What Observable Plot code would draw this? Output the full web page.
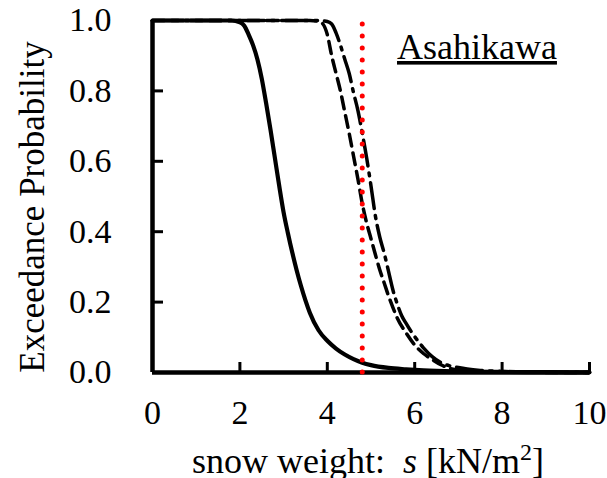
<!DOCTYPE html>
<html><head><meta charset="utf-8">
<script src="https://cdn.jsdelivr.net/npm/d3@7"></script>
<script src="https://cdn.jsdelivr.net/npm/@observablehq/plot@0.6"></script>
<style>body{margin:0;background:#fff}svg{display:block}</style>
</head><body><div id="chart"></div>
<script>
// ---- data ----
const solidS = [0, 1.8, 2.0, 2.1, 2.2, 2.3, 2.4, 2.5, 2.6, 2.7, 2.8, 2.9, 3.0, 3.1, 3.2, 3.3, 3.4, 3.5, 3.6, 3.8, 4.0, 4.2, 4.4, 4.6, 4.8, 5.0, 5.4, 5.8, 6.2, 7.0, 8.0, 9.0, 10.0];
const solidP = [1.0, 1.0, 0.995, 0.985, 0.96, 0.93, 0.89, 0.835, 0.765, 0.69, 0.61, 0.53, 0.455, 0.395, 0.34, 0.29, 0.245, 0.205, 0.17, 0.12, 0.09, 0.068, 0.051, 0.038, 0.028, 0.021, 0.013, 0.009, 0.006, 0.003, 0.0015, 0.0008, 0.0004];

const dashedS = [0, 3.6, 3.8, 3.9, 4.0, 4.1, 4.2, 4.3, 4.4, 4.5, 4.6, 4.7, 4.8, 4.9, 5.0, 5.1, 5.2, 5.3, 5.4, 5.5, 5.6, 5.8, 6.0, 6.2, 6.4, 6.6, 6.8, 7.0, 7.5, 8.0, 9.0, 10.0];
const dashedP = [1.0, 1.0, 0.998, 0.99, 0.96, 0.9, 0.85, 0.8, 0.74, 0.68, 0.615, 0.55, 0.48, 0.425, 0.38, 0.335, 0.292, 0.255, 0.218, 0.185, 0.155, 0.113, 0.078, 0.054, 0.037, 0.022, 0.012, 0.007, 0.003, 0.0012, 0.0003, 0.0001];

const dashDotS = [0, 3.8, 4.0, 4.1, 4.2, 4.3, 4.4, 4.5, 4.6, 4.7, 4.8, 4.9, 5.0, 5.1, 5.2, 5.3, 5.4, 5.5, 5.6, 5.7, 5.8, 5.9, 6.0, 6.2, 6.4, 6.6, 6.8, 7.0, 7.2, 7.5, 8.0, 9.0, 10.0];
const dashDotP = [1.0, 1.0, 0.997, 0.99, 0.965, 0.93, 0.89, 0.85, 0.795, 0.745, 0.68, 0.61, 0.53, 0.445, 0.385, 0.34, 0.288, 0.235, 0.195, 0.162, 0.14, 0.12, 0.102, 0.07, 0.045, 0.028, 0.019, 0.014, 0.01, 0.006, 0.003, 0.001, 0.0003];

const designS = [4.8];
const xTickValues = [0, 2, 4, 6, 8, 10];
const yTickValues = [0, 0.2, 0.4, 0.6, 0.8, 1.0];
const stationLabel = "Asahikawa";
const yTitle = "Exceedance Probability";

// ---- build ----
const rows = (S, P) => S.map((s, i) => ({s, p: P[i]}));
const W = 607, H = 478, mL = 152, mR = 18, mT = 20, mB = 106;
const plotW = W - mL - mR, plotH = H - mT - mB;
const font = "Liberation Serif, Times New Roman, serif";

const chart = Plot.plot({
  width: W, height: H,
  marginLeft: mL, marginRight: mR, marginTop: mT, marginBottom: mB,
  style: {fontFamily: font, fontSize: "34px", color: "black", background: "white"},
  x: {domain: [0, 10]},
  y: {domain: [0, 1]},
  marks: [
    Plot.line(rows(dashDotS, dashDotP), {x: "s", y: "p", stroke: "black", strokeWidth: 3.5, strokeDasharray: "26,7,3,7", curve: "monotone-x"}),
    Plot.line(rows(dashedS, dashedP), {x: "s", y: "p", stroke: "black", strokeWidth: 3.5, strokeDasharray: "12,7", curve: "monotone-x"}),
    Plot.line(rows(solidS, solidP), {x: "s", y: "p", stroke: "black", strokeWidth: 4.2, curve: "monotone-x"}),
    Plot.ruleY([0], {stroke: "black", strokeWidth: 4.5}),
    Plot.ruleX([0], {stroke: "black", strokeWidth: 4.5}),
    Plot.tickX(xTickValues.slice(1), {x: d => d, insetTop: plotH - 10, stroke: "black", strokeWidth: 3}),
    Plot.tickY(yTickValues.slice(1), {y: d => d, insetRight: plotW - 11, stroke: "black", strokeWidth: 3}),
    Plot.ruleX(designS, {y1: 0, y2: 1, stroke: "#ff0000", strokeWidth: 5, strokeDasharray: "0,12", strokeLinecap: "round"}),
    Plot.axisX({ticks: xTickValues, tickSize: 0, tickPadding: 27, fontSize: 34, label: null, tickFormat: d => String(d)}),
    Plot.axisY({ticks: yTickValues, tickSize: 0, tickPadding: 41, fontSize: 34, label: null, tickFormat: d => d.toFixed(1)})
  ]
});
document.getElementById("chart").appendChild(chart);

// ---- titles ----
const svg = d3.select(chart);
const xl = svg.append("text")
  .attr("x", 368).attr("y", 473)
  .attr("text-anchor", "middle")
  .attr("font-family", font).attr("font-size", 36).attr("fill", "black")
  .style("white-space", "pre");
xl.append("tspan").text("snow weight:  ");
xl.append("tspan").attr("font-style", "italic").text("s");
xl.append("tspan").text(" [kN/m");
xl.append("tspan").attr("font-size", 24).attr("dy", -13).text("2");
xl.append("tspan").attr("dy", 13).text("]");

svg.append("text")
  .attr("transform", "translate(44,207) rotate(-90)")
  .attr("text-anchor", "middle")
  .attr("font-family", font).attr("font-size", 35).attr("fill", "black")
  .text(yTitle);

svg.append("text")
  .attr("x", 397).attr("y", 59)
  .attr("text-anchor", "start")
  .attr("font-family", font).attr("font-size", 36).attr("fill", "black")
  .attr("text-decoration", "underline")
  .text(stationLabel);
</script>
</body></html>
